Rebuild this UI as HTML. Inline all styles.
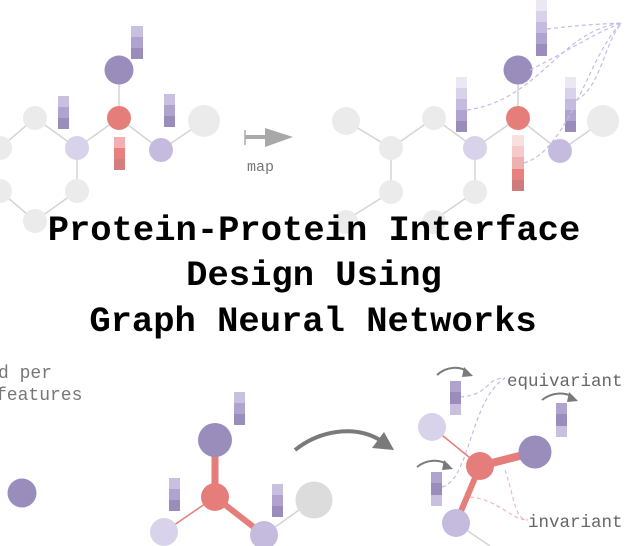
<!DOCTYPE html>
<html><head><meta charset="utf-8"><style>
html,body{margin:0;padding:0;background:#fff;width:626px;height:546px;overflow:hidden}
svg{display:block}
</style></head><body>
<svg width="626" height="546" viewBox="0 0 626 546" xmlns="http://www.w3.org/2000/svg">
<g stroke="#d4d4d4" stroke-width="1.5">
<line x1="0" y1="148" x2="35" y2="118"/><line x1="35" y1="118" x2="77" y2="148"/><line x1="77" y1="148" x2="119" y2="118"/><line x1="119" y1="118" x2="161" y2="150"/><line x1="161" y1="150" x2="204" y2="121"/><line x1="119" y1="118" x2="119" y2="70"/><line x1="77" y1="148" x2="77" y2="191"/><line x1="77" y1="191" x2="35" y2="221"/><line x1="0" y1="191" x2="35" y2="221"/>
<line x1="346" y1="121" x2="391" y2="148"/><line x1="391" y1="148" x2="434" y2="118"/><line x1="434" y1="118" x2="475" y2="148"/><line x1="475" y1="148" x2="518" y2="118"/><line x1="518" y1="118" x2="560" y2="151"/><line x1="560" y1="151" x2="603" y2="121"/><line x1="518" y1="118" x2="518" y2="70"/><line x1="391" y1="148" x2="391" y2="192"/><line x1="475" y1="148" x2="475" y2="192"/><line x1="391" y1="192" x2="346" y2="220"/><line x1="475" y1="192" x2="434" y2="220"/>
<line x1="264" y1="535" x2="313" y2="500"/><line x1="456" y1="523" x2="490" y2="546"/>
</g>
<g fill="#ebebeb">
<circle cx="0" cy="148" r="12"/><circle cx="35" cy="118" r="12"/><circle cx="204" cy="121" r="16"/><circle cx="77" cy="191" r="12"/><circle cx="0" cy="191" r="12"/><circle cx="35" cy="221" r="12"/>
<circle cx="346" cy="121" r="14"/><circle cx="391" cy="148" r="12"/><circle cx="434" cy="118" r="12"/><circle cx="603" cy="121" r="16"/><circle cx="391" cy="192" r="12"/><circle cx="475" cy="192" r="12"/><circle cx="346" cy="222" r="12"/><circle cx="434" cy="222" r="12"/>
</g>
<circle cx="119" cy="70" r="14.5" fill="#9a8cbb"/><circle cx="119" cy="118" r="12" fill="#e57e7b"/><circle cx="77" cy="148" r="12" fill="#d8d3ea"/><circle cx="161" cy="150" r="12" fill="#c5bbdf"/>
<circle cx="518" cy="70" r="14.5" fill="#9a8cbb"/><circle cx="518" cy="118" r="12" fill="#e57e7b"/><circle cx="475" cy="148" r="12" fill="#d8d3ea"/><circle cx="560" cy="151" r="12" fill="#c5bbdf"/>
<g><rect x="131" y="26" width="12" height="11" fill="#c9c0e0"/><rect x="131" y="37" width="12" height="11" fill="#b1a3cf"/><rect x="131" y="48" width="12" height="11" fill="#9a8cbb"/>
<rect x="58" y="96" width="11" height="11" fill="#c9c0e0"/><rect x="58" y="107" width="11" height="11" fill="#b1a3cf"/><rect x="58" y="118" width="11" height="11" fill="#9a8cbb"/>
<rect x="164" y="94" width="11" height="11" fill="#c9c0e0"/><rect x="164" y="105" width="11" height="11" fill="#b1a3cf"/><rect x="164" y="116" width="11" height="11" fill="#9a8cbb"/>
<rect x="114" y="137" width="11" height="11" fill="#f2b0b0"/><rect x="114" y="148" width="11" height="11" fill="#e88080"/><rect x="114" y="159" width="11" height="11" fill="#d57d7d"/></g>
<line x1="245" y1="130" x2="245" y2="145" stroke="#aaa" stroke-width="1.5"/><line x1="245" y1="137" x2="268" y2="137" stroke="#aaa" stroke-width="4"/><polygon points="265,128 293,137 265,147" fill="#a8a8a8"/>
<text x="247" y="171" font-family="Liberation Mono, monospace" font-size="15" fill="#777">map</text>
<g>
<rect x="536" y="0" width="11" height="11" fill="#ebe7f3"/><rect x="536" y="11" width="11" height="11" fill="#d8d3ea"/><rect x="536" y="22" width="11" height="11" fill="#c5bbdf"/><rect x="536" y="33" width="11" height="11" fill="#b1a3cf"/><rect x="536" y="44" width="11" height="12" fill="#9a8cbb"/>
<rect x="456" y="77" width="11" height="11" fill="#ebe7f3"/><rect x="456" y="88" width="11" height="11" fill="#d8d3ea"/><rect x="456" y="99" width="11" height="11" fill="#c5bbdf"/><rect x="456" y="110" width="11" height="11" fill="#b1a3cf"/><rect x="456" y="121" width="11" height="11" fill="#9a8cbb"/>
<rect x="565" y="77" width="11" height="11" fill="#ebe7f3"/><rect x="565" y="88" width="11" height="11" fill="#d8d3ea"/><rect x="565" y="99" width="11" height="11" fill="#c5bbdf"/><rect x="565" y="110" width="11" height="11" fill="#b1a3cf"/><rect x="565" y="121" width="11" height="11" fill="#9a8cbb"/>
<rect x="512" y="135" width="12" height="11" fill="#f8e0e0"/><rect x="512" y="146" width="12" height="11" fill="#f4caca"/><rect x="512" y="157" width="12" height="12" fill="#efb0b0"/><rect x="512" y="169" width="12" height="11" fill="#e88080"/><rect x="512" y="180" width="12" height="11" fill="#cf7b7b"/>
</g>
<g fill="none" stroke="#c5bbe6" stroke-width="1.2" stroke-dasharray="4,3">
<path d="M547 29 C580 25 600 24 622 23"/><path d="M467 110 C540 100 560 30 622 23"/><path d="M576 100 C600 90 605 40 622 23"/><path d="M524 163 C570 150 590 50 622 23"/><path d="M530 70 C570 50 600 30 622 23"/>
</g>
<g font-family="Liberation Mono, monospace" font-size="35.5" font-weight="bold" fill="#000" text-anchor="middle">
<text x="314" y="240">Protein-Protein Interface</text>
<text x="314" y="285">Design Using</text>
<text x="313" y="331">Graph Neural Networks</text>
</g>
<g font-family="Liberation Mono, monospace" font-size="18" fill="#777">
<text x="-2" y="378">d per</text><text x="-4" y="400">features</text>
</g>
<circle cx="22" cy="493" r="14.5" fill="#9a8cbb"/>
<line x1="215" y1="440" x2="215" y2="497" stroke="#e57e7b" stroke-width="7"/>
<line x1="215" y1="497" x2="264" y2="535" stroke="#e57e7b" stroke-width="6"/>
<line x1="215" y1="497" x2="164" y2="532" stroke="#e57e7b" stroke-width="1.5"/>
<circle cx="215" cy="440" r="17" fill="#9a8cbb"/><circle cx="215" cy="497" r="14" fill="#e57e7b"/><circle cx="164" cy="532" r="14" fill="#d8d3ea"/><circle cx="264" cy="535" r="14" fill="#c5bbdf"/>
<rect x="234" y="392" width="11" height="11" fill="#c9c0e0"/><rect x="234" y="403" width="11" height="11" fill="#b1a3cf"/><rect x="234" y="414" width="11" height="11" fill="#9a8cbb"/>
<rect x="169" y="478" width="11" height="11" fill="#c9c0e0"/><rect x="169" y="489" width="11" height="11" fill="#b1a3cf"/><rect x="169" y="500" width="11" height="11" fill="#9a8cbb"/>
<rect x="272" y="484" width="11" height="11" fill="#c9c0e0"/><rect x="272" y="495" width="11" height="11" fill="#b1a3cf"/><rect x="272" y="506" width="11" height="11" fill="#9a8cbb"/>
<path d="M295 450 C320 430 355 425 380 440" fill="none" stroke="#7a7a7a" stroke-width="4"/>
<polygon points="372,448 394,450 384,432" fill="#7a7a7a"/>
<circle cx="314" cy="500" r="18.5" fill="#dcdcdc"/>
<g fill="none" stroke-width="1.2" stroke-dasharray="4,3">
<path d="M460 397 C490 395 485 378 505 378" stroke="#c5bbe6"/><path d="M442 487 C470 480 470 400 505 378" stroke="#c5bbe6"/>
<path d="M470 497 C500 500 510 520 528 520" stroke="#f4b8b8"/><path d="M505 470 C515 500 515 520 528 520" stroke="#f4b8b8"/>
</g>
<line x1="480" y1="466" x2="432" y2="427" stroke="#e57e7b" stroke-width="1.5"/>
<line x1="480" y1="466" x2="535" y2="452" stroke="#e57e7b" stroke-width="8"/>
<line x1="480" y1="466" x2="456" y2="523" stroke="#e57e7b" stroke-width="6"/>
<circle cx="432" cy="427" r="14" fill="#d8d3ea"/><circle cx="480" cy="466" r="14" fill="#e57e7b"/><circle cx="535" cy="452" r="16.5" fill="#9a8cbb"/><circle cx="456" cy="523" r="14" fill="#c5bbdf"/>
<rect x="450" y="381" width="11" height="11" fill="#b1a3cf"/><rect x="450" y="392" width="11" height="12" fill="#9a8cbb"/><rect x="450" y="404" width="11" height="11" fill="#c9c0e0"/>
<rect x="556" y="403" width="11" height="11" fill="#b1a3cf"/><rect x="556" y="414" width="11" height="12" fill="#9a8cbb"/><rect x="556" y="426" width="11" height="11" fill="#c9c0e0"/>
<rect x="431" y="472" width="11" height="11" fill="#b1a3cf"/><rect x="431" y="483" width="11" height="12" fill="#9a8cbb"/><rect x="431" y="495" width="11" height="11" fill="#c9c0e0"/>
<g fill="none" stroke="#7a7a7a" stroke-width="2">
<path d="M437 375 C447 366 460 366 468 372"/><path d="M542 400 C552 392 565 392 573 397"/><path d="M417 467 C427 459 440 459 448 465"/>
</g>
<g fill="#7a7a7a"><polygon points="464,367 473,376 462,377"/><polygon points="569,392 578,401 567,402"/><polygon points="444,460 453,469 442,470"/></g>
<g font-family="Liberation Mono, monospace" font-size="17.5" fill="#666">
<text x="507" y="386">equivariant</text><text x="528" y="527">invariant</text>
</g>
</svg>
</body></html>
